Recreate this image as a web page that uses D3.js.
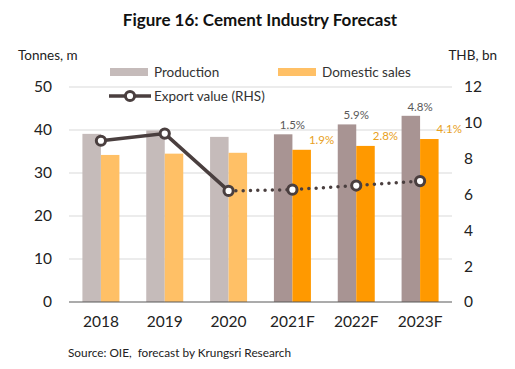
<!DOCTYPE html>
<html>
<head>
<meta charset="utf-8">
<script src="https://cdn.jsdelivr.net/npm/d3@7"></script>
<style>
  body { margin: 0; background: #fff; }
  text { font-family: Lato, "Open Sans", sans-serif; }
</style>
</head>
<body>
<div id="chart"></div>
<script>
// chart data
const years = ["2018", "2019", "2020", "2021F", "2022F", "2023F"];
const forecast = [false, false, false, true, true, true];
const production = [39.1, 39.9, 38.4, 39.0, 41.3, 43.3];
const domestic = [34.2, 34.5, 34.7, 35.4, 36.3, 37.9];
const exportValue = [9.0, 9.4, 6.2, 6.27, 6.5, 6.75];
const prodGrowth = ["", "", "", "1.5%", "5.9%", "4.8%"];
const domGrowth = ["", "", "", "1.9%", "2.8%", "4.1%"];
const leftTicks = [0, 10, 20, 30, 40, 50];
const rightTicks = [0, 2, 4, 6, 8, 10, 12];

const width = 515, height = 369;
const margin = {top: 87, right: 63, bottom: 67, left: 69};
const innerW = width - margin.left - margin.right;
const innerH = height - margin.top - margin.bottom;

const svg = d3.select("#chart").append("svg")
    .attr("width", width)
    .attr("height", height);

const g = svg.append("g")
    .attr("transform", `translate(${margin.left}, ${margin.top})`);

let x = d3.scaleBand().domain(years).range([0, innerW]);
let y = d3.scaleLinear().domain([0, 50]).range([innerH, 0]);
let y2 = d3.scaleLinear().domain([0, 12]).range([innerH, 0]);
const barW = 18.5;

// gridlines
g.selectAll(".grid").data(leftTicks.slice(1)).enter()
    .append("line")
    .attr("x1", 0).attr("x2", innerW)
    .attr("y1", d => y(d)).attr("y2", d => y(d))
    .attr("stroke", "#d9d9d9").attr("stroke-width", 1);

// left axis
let leftAxis = g.append("g")
    .call(d3.axisLeft(y).tickValues(leftTicks).tickSize(0).tickPadding(17));
leftAxis.select(".domain").remove();
leftAxis.selectAll("text").style("font-size", "15.5px").attr("fill", "#222");

// right axis
let rightAxis = g.append("g")
    .attr("transform", `translate(${innerW}, 0)`)
    .call(d3.axisRight(y2).tickValues(rightTicks).tickSize(0).tickPadding(12));
rightAxis.select(".domain").remove();
rightAxis.selectAll("text").style("font-size", "15.5px").attr("fill", "#222");

// bars
g.selectAll(".prod").data(years).enter()
    .append("rect")
    .attr("x", d => x(d) + x.bandwidth() / 2 - barW)
    .attr("y", (d, i) => y(production[i]))
    .attr("width", barW)
    .attr("height", (d, i) => innerH - y(production[i]))
    .attr("fill", (d, i) => forecast[i] ? "#a89493" : "#c5bbba");

g.selectAll(".dom").data(years).enter()
    .append("rect")
    .attr("x", d => x(d) + x.bandwidth() / 2)
    .attr("y", (d, i) => y(domestic[i]))
    .attr("width", barW)
    .attr("height", (d, i) => innerH - y(domestic[i]))
    .attr("fill", (d, i) => forecast[i] ? "#ff9900" : "#ffc066");

// baseline
g.append("line")
    .attr("x1", 0).attr("x2", innerW)
    .attr("y1", innerH).attr("y2", innerH)
    .attr("stroke", "#595959").attr("stroke-width", 1.2);

// x labels
let xAxis = g.append("g")
    .attr("transform", `translate(0, ${innerH})`)
    .call(d3.axisBottom(x).tickSize(0).tickPadding(14));
xAxis.select(".domain").remove();
xAxis.selectAll("text").style("font-size", "15.5px").attr("fill", "#222");

// growth labels
g.selectAll(".pg").data(years).enter()
    .append("text")
    .attr("x", d => x(d) + x.bandwidth() / 2)
    .attr("y", (d, i) => y(production[i]) - 5)
    .attr("text-anchor", "middle")
    .attr("fill", "#595959")
    .style("font-size", "11.5px")
    .text((d, i) => prodGrowth[i]);

g.selectAll(".dg").data(years).enter()
    .append("text")
    .attr("x", d => x(d) + x.bandwidth() / 2 + barW - 2)
    .attr("y", (d, i) => y(domestic[i]) - 6)
    .attr("fill", "#e8a020")
    .style("font-size", "11.5px")
    .text((d, i) => domGrowth[i]);

// export line
let pts = years.map((d, i) => [x(d) + x.bandwidth() / 2, y2(exportValue[i])]);
let line = d3.line();
g.append("path")
    .attr("d", line(pts.slice(0, 3)))
    .attr("fill", "none")
    .attr("stroke", "#4a3f3f")
    .attr("stroke-width", 3.5);
g.append("path")
    .attr("d", line(pts.slice(2)))
    .attr("fill", "none")
    .attr("stroke", "#4a3f3f")
    .attr("stroke-width", 3.5)
    .attr("stroke-linecap", "round")
    .attr("stroke-dasharray", "0 7.3");

g.selectAll(".pt").data(pts).enter()
    .append("circle")
    .attr("cx", d => d[0]).attr("cy", d => d[1])
    .attr("r", 4.6)
    .attr("fill", "#fff")
    .attr("stroke", "#4a3f3f")
    .attr("stroke-width", 3);

// legend
let legend = svg.append("g");
legend.append("rect").attr("x", 110).attr("y", 68).attr("width", 38).attr("height", 8).attr("fill", "#c5bbba");
legend.append("text").attr("x", 154).attr("y", 77).style("font-size", "13.5px").attr("fill", "#333").text("Production");
legend.append("rect").attr("x", 278).attr("y", 68).attr("width", 38).attr("height", 8).attr("fill", "#ffc066");
legend.append("text").attr("x", 322).attr("y", 77).style("font-size", "13.5px").attr("fill", "#333").text("Domestic sales");
legend.append("line").attr("x1", 109).attr("x2", 151).attr("y1", 96).attr("y2", 96)
    .attr("stroke", "#4a3f3f").attr("stroke-width", 3.5);
legend.append("circle").attr("cx", 130).attr("cy", 96).attr("r", 4.6)
    .attr("fill", "#fff").attr("stroke", "#4a3f3f").attr("stroke-width", 3);
legend.append("text").attr("x", 154).attr("y", 101).style("font-size", "13.5px").attr("fill", "#333").text("Export value (RHS)");

// title and axis titles
svg.append("text")
    .attr("x", 260).attr("y", 26)
    .attr("text-anchor", "middle")
    .style("font-size", "17px")
    .attr("font-weight", 700)
    .attr("fill", "#111")
    .text("Figure 16: Cement Industry Forecast");

svg.append("text").attr("x", 18).attr("y", 60).style("font-size", "13.5px").attr("fill", "#222").text("Tonnes, m");
svg.append("text").attr("x", 497).attr("y", 60).attr("text-anchor", "end").style("font-size", "13.5px").attr("fill", "#222").text("THB, bn");

svg.append("text")
    .attr("x", 68).attr("y", 357)
    .style("font-size", "11.8px")
    .style("white-space", "pre")
    .attr("fill", "#222")
    .text("Source: OIE,  forecast by Krungsri Research");
</script>
</body>
</html>
